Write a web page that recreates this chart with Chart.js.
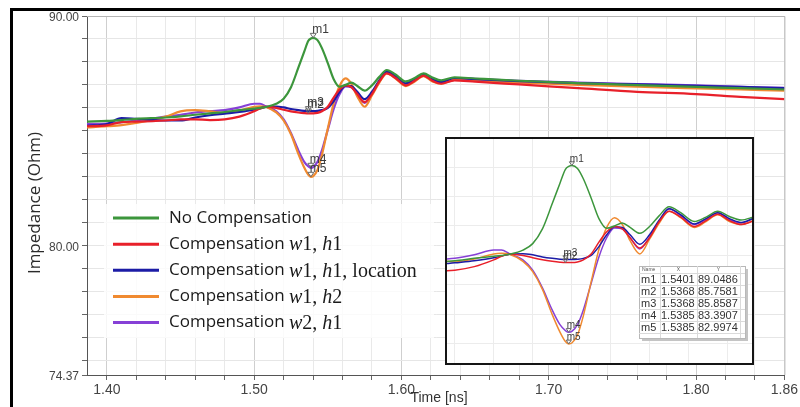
<!DOCTYPE html>
<html>
<head>
<meta charset="utf-8">
<script src="https://cdn.jsdelivr.net/npm/chart.js@4.4.1/dist/chart.umd.min.js"></script>
<style>
  html, body { margin: 0; padding: 0; background: #fff; overflow: hidden; }
  #wrap { position: relative; width: 800px; height: 407px; overflow: hidden; }
  #main { position: absolute; left: 0; top: 0; }
  #frame { position: absolute; left: 10px; top: 8px; width: 820px; height: 420px;
           border-left: 3px solid #000; border-top: 3px solid #000; pointer-events: none; }
  #insetBox { position: absolute; left: 445px; top: 137px; width: 309px; height: 228px;
              border: 2px solid #151515; box-sizing: border-box; background: #fff; }
  #inset { display: block; }
</style>
</head>
<body>
<div id="wrap">
  <canvas id="main" width="800" height="407"></canvas>
  <div id="insetBox"><canvas id="inset" width="305" height="224"></canvas></div>
  <div id="frame"></div>
</div>
<script>
// Time axis samples (ns)
const times = [1.3865, 1.40, 1.41, 1.42, 1.44, 1.45, 1.46, 1.47, 1.48, 1.49, 1.50, 1.504, 1.508,
  1.515, 1.52, 1.525, 1.53, 1.534, 1.5368, 1.5385, 1.5401, 1.543, 1.546, 1.55, 1.554, 1.558,
  1.562, 1.566, 1.570, 1.575, 1.58, 1.585, 1.59, 1.596, 1.603, 1.609, 1.615, 1.621, 1.627,
  1.636, 1.65, 1.68, 1.72, 1.76, 1.80, 1.83, 1.86];

// Impedance (Ohm) for each configuration
const zNoComp = [85.40, 85.43, 85.47, 85.52, 85.58, 85.63, 85.70, 85.76, 85.82, 85.90, 85.97, 86.00, 86.04,
  86.18, 86.40, 86.90, 87.75, 88.45, 88.92, 89.02, 89.0486, 88.95, 88.60, 87.95, 87.25, 86.92,
  87.00, 87.10, 86.95, 86.75, 86.98, 87.35, 87.65, 87.45, 87.15, 87.30, 87.50, 87.32, 87.20,
  87.33, 87.28, 87.18, 87.08, 86.99, 86.91, 86.86, 86.80];
const zW1H1 = [85.20, 85.24, 85.38, 85.40, 85.45, 85.50, 85.50, 85.47, 85.50, 85.62, 85.85, 85.97, 86.04,
  86.00, 85.92, 85.85, 85.80, 85.77, 85.7581, 85.76, 85.76, 85.78, 85.85, 86.05, 86.45, 86.80,
  86.98, 86.90, 86.60, 86.25, 86.60, 87.15, 87.50, 87.30, 86.98, 87.18, 87.40, 87.18, 87.05,
  87.20, 87.14, 87.02, 86.86, 86.70, 86.60, 86.48, 86.38];
const zW1H1Loc = [85.22, 85.30, 85.55, 85.52, 85.45, 85.45, 85.58, 85.68, 85.75, 85.82, 85.92, 85.98, 86.04,
  86.06, 86.02, 85.95, 85.90, 85.87, 85.8587, 85.86, 85.86, 85.87, 85.90, 86.00, 86.30, 86.70,
  86.97, 86.95, 86.70, 86.38, 86.70, 87.20, 87.58, 87.38, 87.07, 87.25, 87.45, 87.25, 87.12,
  87.30, 87.25, 87.16, 87.08, 87.02, 86.96, 86.91, 86.86];
const zW1H2 = [85.15, 85.20, 85.25, 85.35, 85.62, 85.85, 85.90, 85.85, 85.78, 85.88, 86.05, 86.07, 86.04,
  85.80, 85.45, 84.85, 84.00, 83.40, 83.08, 82.9974, 83.03, 83.30, 83.95, 85.10, 86.20, 86.95,
  87.28, 87.05, 86.50, 86.05, 86.55, 87.10, 87.50, 87.28, 86.95, 87.15, 87.38, 87.15, 87.05,
  87.22, 87.18, 87.10, 87.00, 86.92, 86.85, 86.80, 86.75];
const zW2H1 = [85.30, 85.32, 85.38, 85.45, 85.62, 85.70, 85.80, 85.86, 85.90, 86.02, 86.18, 86.18, 86.06,
  85.85, 85.50, 84.90, 84.15, 83.65, 83.45, 83.3907, 83.42, 83.65, 84.15, 85.05, 85.95, 86.60,
  86.93, 86.90, 86.60, 86.22, 86.62, 87.15, 87.58, 87.35, 87.05, 87.22, 87.45, 87.22, 87.10,
  87.30, 87.26, 87.18, 87.10, 87.04, 86.98, 86.92, 86.87];

const seriesValues = [zNoComp, zW1H1, zW1H1Loc, zW1H2, zW2H1];
const seriesLabels = ['No Compensation', 'Compensation w1, h1', 'Compensation w1, h1, location',
  'Compensation w1, h2', 'Compensation w2, h1'];
const seriesColors = ['#3c963c', '#e8202a', '#1c1ca6', '#f08a30', '#8640d6'];

// Axis ticks
const xTicks = [1.40, 1.42, 1.44, 1.46, 1.48, 1.50, 1.52, 1.54, 1.56, 1.58, 1.60, 1.62, 1.64,
  1.66, 1.68, 1.70, 1.72, 1.74, 1.76, 1.78, 1.80, 1.82, 1.84, 1.86];
const xTickLabels = ['1.40', '1.50', '1.60', '1.70', '1.80', '1.86'];
const yTicks = [74.37, 75, 76, 77, 78, 79, 80, 81, 82, 83, 84, 85, 86, 87, 88, 89, 90];
const yTickLabels = ['74.37', '80.00', '90.00'];

// Markers
const markerNames = ['m1', 'm2', 'm3', 'm4', 'm5'];
const markerTimes = [1.5401, 1.5368, 1.5368, 1.5385, 1.5385];
const markerValues = [89.0486, 85.7581, 85.8587, 83.3907, 82.9974];

const SANS = '"Open Sans", "Noto Sans", sans-serif';
const SERIF = '"Liberation Serif", "DejaVu Serif", serif';
const ARIAL = '"Liberation Sans", Arial, sans-serif';

function labelFor(list, v) {
  const hit = list.find(s => Math.abs(parseFloat(s) - v) < 1e-6);
  return hit === undefined ? '' : hit;
}

function buildDatasets(width) {
  return seriesValues.map((vals, i) => ({
    label: seriesLabels[i],
    data: times.map((t, k) => ({ x: t, y: vals[k] })),
    borderColor: seriesColors[i],
    borderWidth: width,
    pointRadius: 0,
    fill: false,
    cubicInterpolationMode: 'monotone'
  }));
}

// plot frame on top/right
const framePlugin = {
  id: 'frameLines',
  beforeDatasetsDraw(chart, args, opts) {
    const { ctx, chartArea: a } = chart;
    ctx.save();
    ctx.strokeStyle = opts.color;
    ctx.lineWidth = 1;
    ctx.beginPath();
    ctx.moveTo(a.left, a.top + 0.5);
    ctx.lineTo(a.right + 0.5, a.top + 0.5);
    ctx.lineTo(a.right + 0.5, a.bottom);
    ctx.stroke();
    ctx.restore();
  }
};

const markerPlugin = {
  id: 'markerLabels',
  afterDatasetsDraw(chart, args, opts) {
    const { ctx, scales: { x, y } } = chart;
    ctx.save();
    ctx.font = opts.font;
    ctx.fillStyle = '#3a3a3a';
    ctx.strokeStyle = '#6a6a6a';
    ctx.lineWidth = 1;
    ctx.textBaseline = 'alphabetic';
    markerNames.forEach((n, i) => {
      const px = x.getPixelForValue(markerTimes[i]);
      const py = y.getPixelForValue(markerValues[i]);
      const s = opts.size;
      ctx.beginPath();
      ctx.moveTo(px - s, py - s * 1.5);
      ctx.lineTo(px + s, py - s * 1.5);
      ctx.lineTo(px, py);
      ctx.closePath();
      ctx.stroke();
      ctx.fillText(n, px + opts.dx, py + opts.dy);
    });
    ctx.restore();
  }
};

const annotatePlugin = {
  id: 'annotate',
  afterDraw(chart) {
    const { ctx } = chart;
    ctx.save();
    // axis titles
    ctx.fillStyle = '#2a2a2a';
    ctx.font = '17px ' + SANS;
    ctx.textAlign = 'center';
    ctx.textBaseline = 'middle';
    ctx.translate(35, 203);
    ctx.rotate(-Math.PI / 2);
    ctx.fillText('Impedance (Ohm)', 0, 0);
    ctx.setTransform(1, 0, 0, 1, 0, 0);
    ctx.font = '14px ' + ARIAL;
    ctx.fillStyle = '#333';
    ctx.fillText('Time [ns]', 439, 398);

    // legend
    ctx.fillStyle = 'rgba(255,255,255,0.8)';
    ctx.fillRect(104, 204, 330, 134);
    seriesLabels.forEach((lab, i) => {
      const yy = 218 + i * 26.15;
      ctx.strokeStyle = seriesColors[i];
      ctx.lineWidth = 3;
      ctx.beginPath();
      ctx.moveTo(113, yy);
      ctx.lineTo(159, yy);
      ctx.stroke();
      ctx.fillStyle = '#1a1a1a';
      ctx.textAlign = 'left';
      ctx.textBaseline = 'middle';
      let xx = 169;
      const m = lab.match(/^(Compensation )(.+)$/);
      if (!m) {
        ctx.font = '17px ' + SANS;
        ctx.fillText(lab, xx, yy);
        return;
      }
      ctx.font = '17px ' + SANS;
      ctx.fillText(m[1], xx, yy);
      xx += ctx.measureText(m[1]).width;
      const parts = m[2].split(/([wh](?=\d))/).filter(p => p.length);
      parts.forEach(p => {
        const ital = /^[wh]$/.test(p);
        ctx.font = (ital ? 'italic ' : '') + '20px ' + SERIF;
        ctx.fillText(p, xx, yy + 1);
        xx += ctx.measureText(p).width;
      });
    });
    ctx.restore();
  }
};

new Chart(document.getElementById('main'), {
  type: 'line',
  data: { datasets: buildDatasets(2.2) },
  options: {
    responsive: false,
    animation: false,
    devicePixelRatio: 1,
    layout: { padding: { left: 0, top: 16, right: 11, bottom: 0 } },
    plugins: {
      legend: { display: false },
      tooltip: { enabled: false },
      frameLines: { color: '#b4b4b4' },
      markerLabels: { font: '12px ' + ARIAL, size: 3, dx: -1, dy: -5 }
    },
    scales: {
      x: {
        type: 'linear',
        min: 1.3865,
        max: 1.86,
        afterBuildTicks: s => { s.ticks = xTicks.map(v => ({ value: v })); },
        afterFit: s => { s.height = 32; },
        ticks: {
          autoSkip: false, maxRotation: 0, padding: 2,
          color: '#444', font: { family: ARIAL, size: 14 },
          callback: v => labelFor(xTickLabels, v)
        },
        grid: {
          color: c => (labelFor(xTickLabels, c.tick.value) && c.tick.value < 1.85) ? '#cfcfcf' : '#e9e9e9',
          tickColor: '#666', tickLength: 5, lineWidth: 1
        },
        border: { color: '#555', width: 1 }
      },
      y: {
        type: 'linear',
        min: 74.37,
        max: 90,
        afterBuildTicks: s => { s.ticks = yTicks.map(v => ({ value: v })); },
        afterFit: s => { s.width = 87; },
        ticks: {
          autoSkip: false, padding: 3, labelOffset: 2,
          color: '#444', font: { family: ARIAL, size: 12 },
          callback: v => labelFor(yTickLabels, v)
        },
        grid: { color: '#e6e6e6', tickColor: '#666', tickLength: 5, lineWidth: 1 },
        border: { color: '#555', width: 1 }
      }
    }
  },
  plugins: [framePlugin, markerPlugin, annotatePlugin]
});

// zoomed view
const insetX = [1.476, 1.6326];
const insetY = [82.35, 89.95];
const insetXGrid = [1.48, 1.50, 1.52, 1.54, 1.56, 1.58, 1.60, 1.62];
const insetYGrid = [83, 84, 85, 86, 87, 88, 89];

const tablePlugin = {
  id: 'markerTable',
  afterDraw(chart) {
    const { ctx } = chart;
    const L = 192, T = 127, colX = [192, 213, 250, 293, 298], rowH = 12, headH = 7;
    const rows = markerNames.length;
    const H = headH + rows * rowH + 5;
    ctx.save();
    ctx.fillStyle = '#c4c4c4';
    ctx.fillRect(L + 3, T + 3, colX[4] - L, H);
    ctx.fillStyle = '#fff';
    ctx.fillRect(L, T, colX[4] - L, H);
    ctx.strokeStyle = '#b8b8b8';
    ctx.lineWidth = 1;
    ctx.strokeRect(L + 0.5, T + 0.5, colX[4] - L, H);
    ctx.strokeStyle = '#dadada';
    colX.slice(1, 4).forEach(cx => {
      ctx.beginPath(); ctx.moveTo(cx + 0.5, T); ctx.lineTo(cx + 0.5, T + H); ctx.stroke();
    });
    for (let r = 0; r <= rows; r++) {
      const yy = T + headH + r * rowH + 0.5;
      ctx.beginPath(); ctx.moveTo(L, yy); ctx.lineTo(colX[4], yy); ctx.stroke();
    }
    ctx.fillStyle = '#555';
    ctx.font = '5px ' + ARIAL;
    ctx.textBaseline = 'middle';
    ctx.textAlign = 'left';
    ctx.fillText('Name', L + 3, T + 4);
    ctx.textAlign = 'center';
    ctx.fillText('X', (colX[1] + colX[2]) / 2, T + 4);
    ctx.fillText('Y', (colX[2] + colX[3]) / 2, T + 4);
    ctx.fillStyle = '#333';
    ctx.font = '11px ' + ARIAL;
    ctx.textAlign = 'left';
    markerNames.forEach((n, i) => {
      const yy = T + headH + i * rowH + rowH / 2 + 1;
      ctx.fillText(n, L + 2, yy);
      ctx.fillText(markerTimes[i].toFixed(4), colX[1] + 1, yy);
      ctx.fillText(markerValues[i].toFixed(4), colX[2] + 1, yy);
    });
    ctx.restore();
  }
};

new Chart(document.getElementById('inset'), {
  type: 'line',
  data: { datasets: buildDatasets(1.5) },
  options: {
    responsive: false,
    animation: false,
    devicePixelRatio: 1,
    layout: { padding: 0 },
    plugins: {
      legend: { display: false },
      tooltip: { enabled: false },
      markerLabels: { font: '10px ' + ARIAL, size: 2.5, dx: -2, dy: -4 }
    },
    scales: {
      x: {
        type: 'linear', min: insetX[0], max: insetX[1],
        afterBuildTicks: s => { s.ticks = insetXGrid.map(v => ({ value: v })); },
        afterFit: s => { s.height = 0; },
        ticks: { display: false },
        grid: { color: '#ececec', drawTicks: false },
        border: { display: false }
      },
      y: {
        type: 'linear', min: insetY[0], max: insetY[1],
        afterBuildTicks: s => { s.ticks = insetYGrid.map(v => ({ value: v })); },
        afterFit: s => { s.width = 0; },
        ticks: { display: false },
        grid: { color: '#ececec', drawTicks: false },
        border: { display: false }
      }
    }
  },
  plugins: [markerPlugin, tablePlugin]
});
</script>
</body>
</html>
